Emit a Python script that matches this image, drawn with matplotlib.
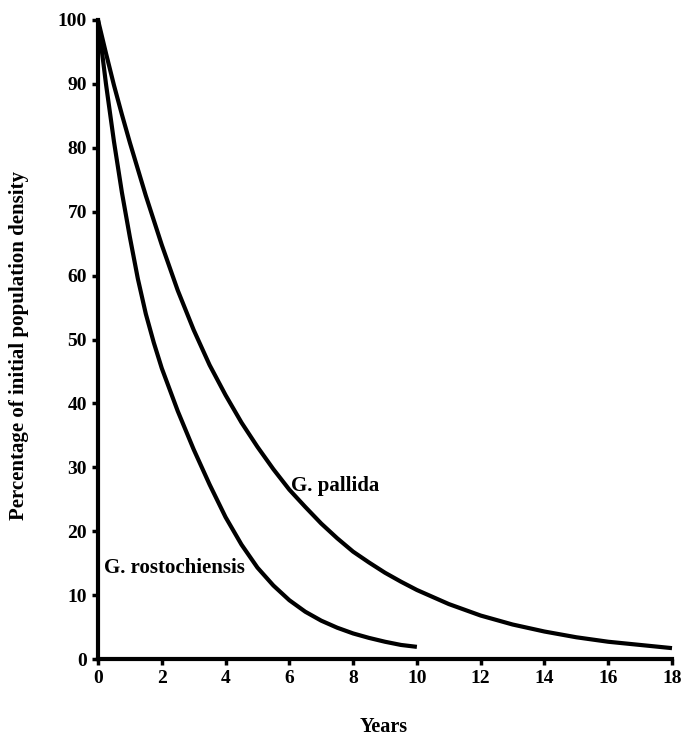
import matplotlib
matplotlib.use('Agg')
import matplotlib.pyplot as plt

# values (percentage of initial density vs years)
years_rost = [0, 0.25, 0.5, 0.75, 1, 1.25, 1.5, 1.75, 2, 2.5, 3, 3.5, 4, 4.5, 5,
              5.5, 6, 6.5, 7, 7.5, 8, 8.5, 9, 9.5, 10]
rost = [100, 90, 81, 73, 66, 59.5, 54, 49.5, 45.5, 38.8, 32.8, 27.3, 22.2, 17.9, 14.3,
        11.5, 9.2, 7.4, 6, 4.9, 4, 3.3, 2.7, 2.2, 1.9]

years_pall = [0, 0.25, 0.5, 0.75, 1, 1.5, 2, 2.5, 3, 3.5, 4, 4.5, 5, 5.5, 6, 6.5,
              7, 7.5, 8, 8.5, 9, 9.5, 10, 11, 12, 13, 14, 15, 16, 17, 18]
pall = [100, 94.8, 89.8, 85.2, 80.8, 72.5, 64.8, 57.7, 51.5, 46, 41.3, 37, 33.2, 29.7, 26.5, 23.8,
        21.2, 18.9, 16.8, 15.1, 13.5, 12.1, 10.8, 8.6, 6.8, 5.4, 4.3, 3.4, 2.7, 2.2, 1.7]

xticks = list(range(0, 19, 2))
yticks = list(range(0, 101, 10))

plt.rcParams['font.family'] = ['Liberation Serif', 'DejaVu Serif']
plt.rcParams['font.weight'] = 'bold'

fig = plt.figure(figsize=(6.83, 7.37), dpi=100)
ax = fig.add_axes([98/683, 1 - 659/737, 574/683, 639/737])

ax.plot(years_rost, rost, color='black', lw=3, clip_on=False,
        solid_capstyle='butt', solid_joinstyle='round')
ax.plot(years_pall, pall, color='black', lw=3, clip_on=False,
        solid_capstyle='butt', solid_joinstyle='round')

ax.set_xlim(0, 18)
ax.set_ylim(0, 100)
ax.set_xticks(xticks)
ax.set_yticks(yticks)
ax.tick_params(direction='out', length=4, width=2.5, labelsize=14, pad=4)
for lab in ax.get_xticklabels() + ax.get_yticklabels():
    lab.set_fontweight('bold')

ax.spines['top'].set_visible(False)
ax.spines['right'].set_visible(False)
ax.spines['left'].set_linewidth(3)
ax.spines['bottom'].set_linewidth(3)

ax.text(6.05, 27, 'G. pallida', fontsize=15, fontweight='bold', va='center', ha='left')
ax.text(0.2, 14.3, 'G. rostochiensis', fontsize=15, fontweight='bold', va='center', ha='left')

fig.text(384/683, 1 - 727/737, 'Years', fontsize=14.5, fontweight='bold', ha='center', va='center')
fig.text(19/683, 1 - 345/737, 'Percentage of initial population density', fontsize=15,
         fontweight='bold', rotation=90, ha='center', va='center')

fig.savefig('out.png', dpi=100)
